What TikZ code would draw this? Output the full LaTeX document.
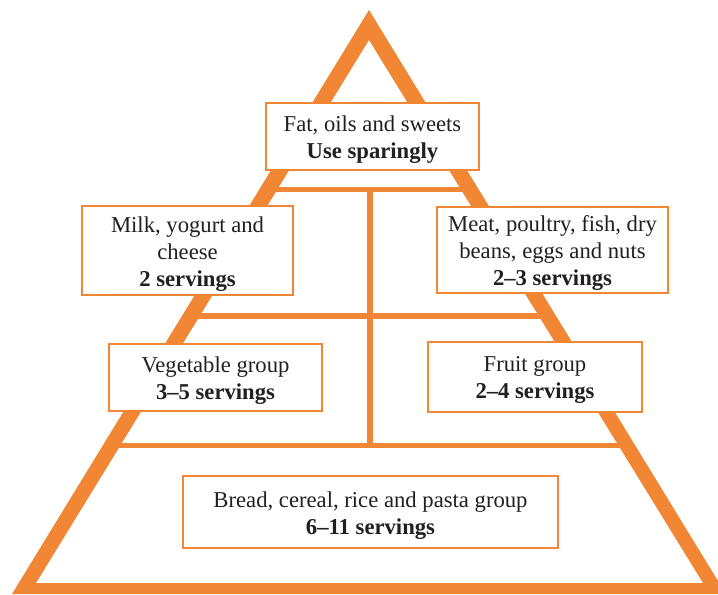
\documentclass[tikz,border=0pt]{standalone}
\usepackage{fontspec}
\setmainfont{Liberation Serif}
\definecolor{pyrorange}{RGB}{241,134,52}
\definecolor{pyrtext}{RGB}{35,31,32}
\tikzset{
  levelbox/.style={draw=pyrorange, line width=0.9pt, fill=white, inner sep=0pt},
  boxtext/.style={align=center, text=pyrtext, inner sep=0pt,
    font=\fontsize{17}{20.25}\selectfont},
  bar/.style={draw=pyrorange, line width=4pt},
}
\begin{document}
\begin{tikzpicture}[x=0.75pt,y=-0.75pt]
\useasboundingbox (0,0) rectangle (718,595);
% pyramid outline: outer triangle minus inner triangle
\fill[pyrorange, even odd rule]
  (369,10) -- (12,594) -- (726,594) -- cycle
  (369,40) -- (36,583) -- (703,583) -- cycle;
% level dividers and central spine
\coordinate (l1a) at (268,189.5);  \coordinate (l1b) at (470,189.5);
\coordinate (l2a) at (191,316);    \coordinate (l2b) at (547,316);
\coordinate (l3a) at (111,445.5);  \coordinate (l3b) at (628,445.5);
\coordinate (sTop) at (370,189.5); \coordinate (sBot) at (370,445.5);
\draw[bar] (l1a) -- (l1b);
\draw[bar] (l2a) -- (l2b);
\draw[bar] (l3a) -- (l3b);
\draw[bar] (sTop) -- (sBot);
% food group boxes
\node[levelbox, minimum width=159.75pt, minimum height=50.25pt] (fat) at (372.5,136.5) {};
\node[levelbox, minimum width=158.25pt, minimum height=66.75pt] (milk) at (187.5,250.5) {};
\node[levelbox, minimum width=173.25pt, minimum height=64.5pt] (meat) at (552.5,250) {};
\node[levelbox, minimum width=159.75pt, minimum height=50.25pt] (veg) at (215.5,377.5) {};
\node[levelbox, minimum width=160.5pt, minimum height=52.5pt] (fruit) at (535,377) {};
\node[levelbox, minimum width=281.25pt, minimum height=54pt] (bread) at (370.5,512) {};
% their labels
\node[boxtext] (fatT) at ([yshift=-2.5pt]fat.center)
  {Fat, oils and sweets\\\textbf{Use sparingly}};
\node[boxtext] (milkT) at ([yshift=-2.5pt]milk.center)
  {Milk, yogurt and\\cheese\\\textbf{2 servings}};
\node[boxtext] (meatT) at ([yshift=-2.5pt]meat.center)
  {Meat, poultry, fish, dry\\beans, eggs and nuts\\\textbf{2–3 servings}};
\node[boxtext] (vegT) at ([yshift=-2.5pt]veg.center)
  {Vegetable group\\\textbf{3–5 servings}};
\node[boxtext] (fruitT) at ([yshift=-2.5pt]fruit.center)
  {Fruit group\\\textbf{2–4 servings}};
\node[boxtext] (breadT) at ([yshift=-2.5pt]bread.center)
  {Bread, cereal, rice and pasta group\\\textbf{6–11 servings}};
\end{tikzpicture}
\end{document}
